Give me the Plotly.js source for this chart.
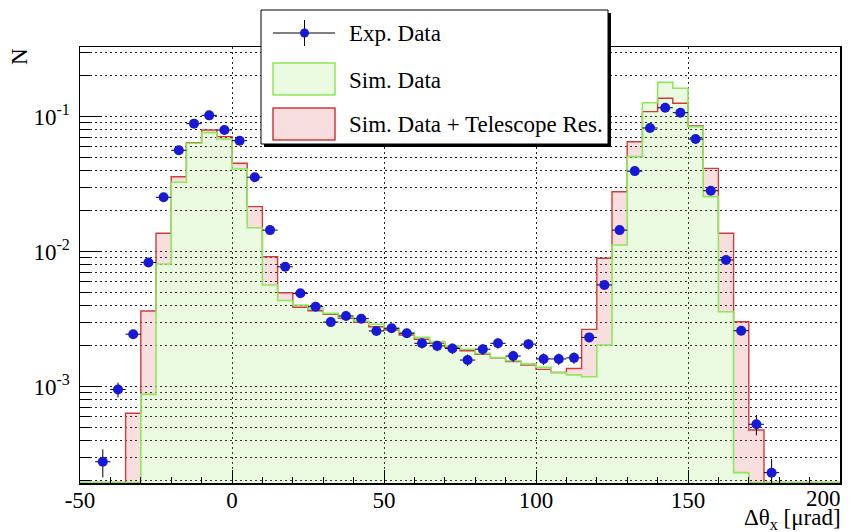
<!DOCTYPE html>
<html>
<head>
<meta charset="utf-8">
<script src="https://cdn.plot.ly/plotly-3.0.1.min.js"></script>
<style>html,body{margin:0;padding:0;background:#fff;}#chart{width:859px;height:532px;}</style>
</head>
<body>
<div id="chart"></div>
<script>
// Bin centres (5 µrad bins)
const binCentres = [-42.5,-37.5,-32.5,-27.5,-22.5,-17.5,-12.5,-7.5,-2.5,
  2.5,7.5,12.5,17.5,22.5,27.5,32.5,37.5,42.5,47.5,52.5,57.5,62.5,67.5,72.5,77.5,82.5,87.5,92.5,97.5,
  102.5,107.5,112.5,117.5,122.5,127.5,132.5,137.5,142.5,147.5,152.5,157.5,162.5,167.5,172.5,177.5];

// Experimental data
const expData = [2.77e-4,9.5e-4,2.44e-3,8.3e-3,0.0252,0.0562,0.0885,0.102,0.0794,
  0.0662,0.0355,0.0144,0.0077,0.0049,0.0039,0.0030,0.00333,0.00318,0.00258,0.00270,0.00248,0.00209,0.00200,0.00191,0.00157,0.00189,0.00209,0.00168,0.00206,
  0.00160,0.00160,0.00163,0.00231,0.00565,0.0144,0.0394,0.0822,0.116,0.1067,0.0681,0.0282,0.00865,0.00259,0.000525,0.00023];
const expErr = [6.5e-5,1.2e-4,1.9e-4,3.6e-4,6.2e-4,9.3e-4,1.17e-3,1.25e-3,1.1e-3,
  1.0e-3,7.4e-4,4.7e-4,3.4e-4,2.7e-4,2.45e-4,2.15e-4,2.26e-4,2.2e-4,2.0e-4,2.04e-4,1.95e-4,1.79e-4,1.75e-4,1.71e-4,1.55e-4,1.7e-4,1.79e-4,1.6e-4,1.78e-4,
  1.57e-4,1.57e-4,1.58e-4,1.88e-4,2.95e-4,4.7e-4,7.8e-4,1.12e-3,1.34e-3,1.28e-3,1.02e-3,6.6e-4,3.65e-4,2.0e-4,9.0e-5,6.0e-5];

// Simulated data
const simData = [0,0,0,8.75e-4,8.07e-3,0.0326,0.0633,0.0759,0.0681,
  0.0408,0.0150,0.00565,0.00433,0.00402,0.00375,0.00348,0.00326,0.00306,0.00289,0.00270,0.00251,0.00231,0.00215,0.00200,0.00189,0.00176,0.00164,0.00155,0.00147,
  0.00139,0.00127,0.00122,0.00118,0.00203,0.01117,0.0504,0.1265,0.179,0.1617,0.0840,0.0255,0.00358,0.00023,0,0];

// Simulated data + telescope resolution
const simTelData = [0,0,6.33e-4,3.62e-3,0.01365,0.0358,0.0640,0.0794,0.0709,
  0.0450,0.0215,0.00914,0.00495,0.00386,0.00364,0.00343,0.00320,0.00299,0.00277,0.00262,0.00241,0.00224,0.00209,0.00195,0.00184,0.00173,0.00163,0.00153,0.00144,
  0.00134,0.00127,0.00136,0.00265,0.00891,0.0277,0.0650,0.1086,0.1364,0.1253,0.0851,0.0413,0.01365,0.00302,0.000476,0];

// Axis ticks
const xTickVals = [-50,0,50,100,150,200];
const xTickText = ['-50','0','50','100','150',''];
const yTickVals = [2e-4,3e-4,4e-4,5e-4,6e-4,7e-4,8e-4,9e-4,
  1e-3,2e-3,3e-3,4e-3,5e-3,6e-3,7e-3,8e-3,9e-3,
  1e-2,2e-2,3e-2,4e-2,5e-2,6e-2,7e-2,8e-2,9e-2,
  1e-1,2e-1,3e-1];
const yMajorVals = [1e-3,1e-2,1e-1];
const yMajorText = ['10<sup>-3</sup>','10<sup>-2</sup>','10<sup>-1</sup>'];

const xRange = [-50,200];
const yRangeLog = [-3.7148,-0.4852];

const FONT = '"Liberation Serif", "Times New Roman", serif';
const FS = 23;
const floorVal = Math.pow(10, yRangeLog[0] + 0.004);
const halfW = (binCentres[1]-binCentres[0])/2;

function stepPath(vals){
  const xs=[xRange[0]], ys=[floorVal];
  vals.forEach((v,i)=>{
    const yv = v>0 ? v : floorVal;
    xs.push(binCentres[i]-halfW, binCentres[i]+halfW);
    ys.push(yv, yv);
  });
  xs.push(xRange[1]); ys.push(floorVal);
  return {x:xs, y:ys};
}

const green = stepPath(simData);
const red = stepPath(simTelData);
const upper = stepPath(simTelData.map((v,i)=>Math.max(v, simData[i])));
const pinkX = upper.x.concat(green.x.slice().reverse());
const pinkY = upper.y.concat(green.y.slice().reverse());

const ticktext = yTickVals.map(v=>{
  const k = yMajorVals.indexOf(v);
  return k>=0 ? yMajorText[k] : '';
});

const traces = [
  {x:green.x, y:green.y, mode:'lines', fill:'toself', fillcolor:'rgba(120,225,60,0.15)',
   line:{width:0}, hoverinfo:'skip', showlegend:false, xaxis:'x', yaxis:'y'},
  {x:pinkX, y:pinkY, mode:'lines', fill:'toself', fillcolor:'rgba(215,60,60,0.17)',
   line:{width:0}, hoverinfo:'skip', showlegend:false, xaxis:'x', yaxis:'y'},
  {x:red.x, y:red.y, mode:'lines', line:{color:'#d03c3c', width:1.4},
   hoverinfo:'skip', showlegend:false, xaxis:'x', yaxis:'y2', name:'Sim. Data + Telescope Res.'},
  {x:green.x, y:green.y, mode:'lines', line:{color:'#8ee85a', width:1.6},
   hoverinfo:'skip', showlegend:false, xaxis:'x', yaxis:'y2', name:'Sim. Data'},
  {x:binCentres, y:expData, mode:'markers', name:'Exp. Data', xaxis:'x', yaxis:'y2',
   marker:{color:'#1818d8', size:10},
   error_y:{type:'data', array:expErr, visible:true, color:'#000', thickness:1, width:0},
   error_x:{type:'constant', value:halfW, visible:true, color:'#000', thickness:1, width:0},
   showlegend:false}
];

// Legend helpers (paper coordinates from pixel positions)
const PL=80, PT=47, PW=760, PH=436;
const px = v => (v-PL)/PW;
const py = v => (PT+PH-v)/PH;

const shapes = [
  {type:'rect', xref:'paper', yref:'paper', x0:px(264), x1:px(611), y0:py(147), y1:py(13), fillcolor:'#000', line:{width:0}, layer:'above'},
  {type:'rect', xref:'paper', yref:'paper', x0:px(261), x1:px(608), y0:py(144), y1:py(10), fillcolor:'#fff', line:{color:'#000', width:1}, layer:'above'},
  {type:'line', xref:'paper', yref:'paper', x0:px(273), x1:px(335), y0:py(33), y1:py(33), line:{color:'#000', width:1}, layer:'above'},
  {type:'line', xref:'paper', yref:'paper', x0:px(304.5), x1:px(304.5), y0:py(20), y1:py(46), line:{color:'#000', width:1}, layer:'above'},
  {type:'circle', xref:'paper', yref:'paper', x0:px(300), x1:px(309), y0:py(37.5), y1:py(28.5), fillcolor:'#1818d8', line:{color:'#1818d8', width:0}, layer:'above'},
  {type:'rect', xref:'paper', yref:'paper', x0:px(273), x1:px(335), y0:py(95), y1:py(63), fillcolor:'rgba(120,225,60,0.15)', line:{color:'#8ee85a', width:1.5}, layer:'above'},
  {type:'rect', xref:'paper', yref:'paper', x0:px(273), x1:px(335), y0:py(140), y1:py(108), fillcolor:'rgba(215,60,60,0.17)', line:{color:'#d03c3c', width:1.5}, layer:'above'}
];

const annotations = [
  {xref:'paper', yref:'paper', x:px(347), y:py(33), xanchor:'left', yanchor:'middle', text:'Exp. Data', showarrow:false, font:{family:FONT, size:FS, color:'#000'}},
  {xref:'paper', yref:'paper', x:px(347), y:py(80), xanchor:'left', yanchor:'middle', text:'Sim. Data', showarrow:false, font:{family:FONT, size:FS, color:'#000'}},
  {xref:'paper', yref:'paper', x:px(347), y:py(124), xanchor:'left', yanchor:'middle', text:'Sim. Data + Telescope Res.', showarrow:false, font:{family:FONT, size:FS, color:'#000'}},
  {xref:'paper', yref:'paper', x:px(20), y:py(57), xanchor:'center', yanchor:'middle', text:'N', textangle:-90, showarrow:false, font:{family:FONT, size:FS, color:'#000'}},
  {xref:'paper', yref:'paper', x:px(843), y:py(519), xanchor:'right', yanchor:'middle', text:'Δθ<sub>x</sub> [μrad]', showarrow:false, font:{family:FONT, size:FS, color:'#000'}},
  {xref:'x', yref:'paper', x:xTickVals[5], y:py(484), xanchor:'right', yanchor:'top', xshift:3, text:'200', showarrow:false, font:{family:FONT, size:FS, color:'#000'}}
];

const gridStyle = {showgrid:true, gridcolor:'#222', gridwidth:1, griddash:'2px,3px'};

const layout = {
  width:859, height:532,
  margin:{l:80, r:19, t:47, b:49, pad:0},
  paper_bgcolor:'#fff', plot_bgcolor:'#fff',
  showlegend:false,
  font:{family:FONT, size:FS, color:'#000'},
  xaxis:Object.assign({
    range:xRange, tickmode:'array', tickvals:xTickVals, ticktext:xTickText,
    ticks:'inside', ticklen:13, tickwidth:1, tickcolor:'#000',
    minor:{tickmode:'linear', tick0:-50, dtick:10, ticks:'inside', ticklen:6, tickcolor:'#000', showgrid:false},
    showline:true, linecolor:'#000', linewidth:1.5, mirror:true, zeroline:false,
    tickfont:{family:FONT, size:FS, color:'#000'}, ticklabelstandoff:-4
  }, gridStyle),
  yaxis:Object.assign({
    type:'log', range:yRangeLog, tickmode:'array', tickvals:yTickVals, ticktext:ticktext,
    ticks:'inside', ticklen:10, tickwidth:1, tickcolor:'#000',
    showline:true, linecolor:'#000', linewidth:1.5, mirror:true, zeroline:false,
    tickfont:{family:FONT, size:FS, color:'#000'}, ticklabelstandoff:4
  }, gridStyle),
  yaxis2:{
    type:'log', range:yRangeLog, overlaying:'y', anchor:'x', side:'left',
    tickmode:'array', tickvals:yMajorVals, ticks:'inside', ticklen:22, tickwidth:1, tickcolor:'#000',
    showticklabels:false, showgrid:false, showline:false, zeroline:false
  },
  shapes:shapes,
  annotations:annotations
};

Plotly.newPlot('chart', traces, layout, {displayModeBar:false, staticPlot:true});
</script>
</body>
</html>
